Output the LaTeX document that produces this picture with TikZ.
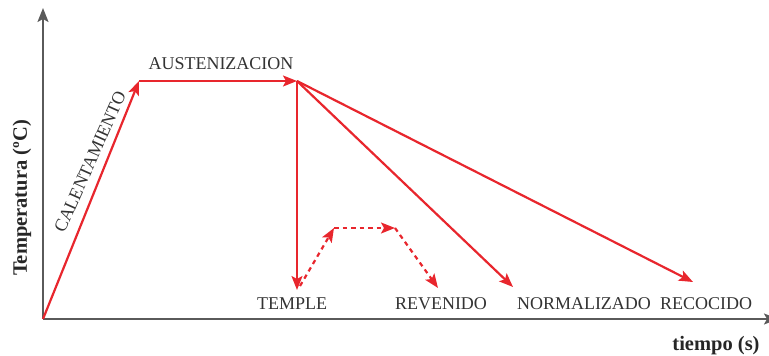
\documentclass[tikz,border=0pt]{standalone}
\usepackage{fontspec}
\setmainfont{Liberation Serif}
\usetikzlibrary{arrows.meta}
\definecolor{curvered}{HTML}{E8262D}
\definecolor{axisgray}{HTML}{5A5A5A}
\tikzset{
  axisline/.style={draw=axisgray, line width=2pt, -{Stealth[length=14pt,width=11pt,inset=3pt]}},
  stage/.style={draw=curvered, line width=2.2pt, -{Stealth[length=14pt,width=11pt,inset=3pt]}},
  tempering/.style={stage, dash pattern=on 4.5pt off 4pt},
  lbl/.style={font=\fontsize{18}{20}\selectfont, text=black!80, inner sep=0pt},
  axislbl/.style={font=\fontsize{20.5}{22}\selectfont\bfseries, text=black!85, inner sep=0pt}
}
\begin{document}
\begin{tikzpicture}[x=1pt, y=1pt]
    \useasboundingbox (0,0) rectangle (769,356);
    % axes
    \coordinate (O) at (43,37);
    \coordinate (ytop) at (43,348);
    \coordinate (xend) at (778,37);
    \draw[axisline] (O) -- (ytop);
    \draw[axisline] (O) -- (xend);
    \node[axislbl, rotate=90] (ylabel) at (22,158) {Temperatura (ºC)};
    \node[axislbl] (xlabel) at (716,10) {tiempo (s)};

    % heating and holding
    \coordinate (heat) at (139,275);
    \coordinate (hold) at (297,275);
    \draw[stage] (O) -- (heat);
    \draw[stage] (heat) -- (hold);
    \node[lbl, rotate=66] (calent) at (90,194) {CALENTAMIENTO};
    \node[lbl] (austen) at (221,292) {AUSTENIZACION};

    % cooling
    \coordinate (templeEnd) at (297,66);
    \coordinate (normalEnd) at (513,69);
    \coordinate (recocEnd) at (693,74);
    \draw[stage] (hold) -- (templeEnd);
    \draw[stage] (hold) -- (normalEnd);
    \draw[stage] (hold) -- (recocEnd);

    % tempering
    \coordinate (rev0) at (300,70);
    \coordinate (rev1) at (334,128);
    \coordinate (rev2) at (395,128);
    \coordinate (rev3) at (438,68);
    \draw[tempering] (rev0) -- (rev1);
    \draw[tempering] (rev1) -- (rev2);
    \draw[tempering] (rev2) -- (rev3);

    % treatment names
    \node[lbl] (temple) at (292,52) {TEMPLE};
    \node[lbl] (revenido) at (441,52) {REVENIDO};
    \node[lbl] (normal) at (584,52) {NORMALIZADO};
    \node[lbl] (recocido) at (706,52) {RECOCIDO};
\end{tikzpicture}
\end{document}
